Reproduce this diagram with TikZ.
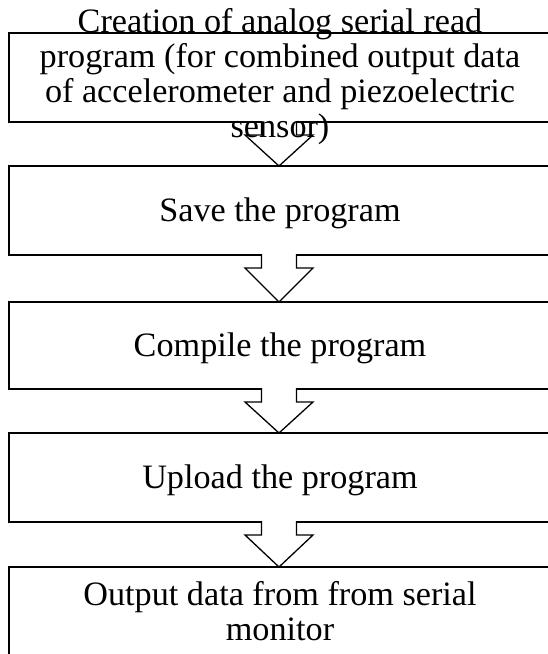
\documentclass[tikz,border=0pt]{standalone}
\usepackage{fontspec}
\setmainfont{Liberation Serif}

\newlength{\du}
\setlength{\du}{1pt}

\tikzset{
  stepbox/.style={draw=black, line width=1.4\du, fill=white, minimum width=540\du, minimum height=89\du, inner sep=0pt, outer sep=0pt},
  steptext/.style={align=center, inner sep=0pt, font=\fontsize{34.2}{35}\selectfont},
  blockarrow/.style={draw=black, fill=white, line width=1.3\du, line join=miter}
}

\begin{document}
\begin{tikzpicture}[x=\du,y=-\du]
\useasboundingbox (0,0) rectangle (547,654);
% boxes
\node[stepbox] (b1) at (279,77.5) {};
\node[stepbox] (b2) at (279,210.5) {};
\node[stepbox,minimum height=87\du] (b3) at (279,345.5) {};
\node[stepbox] (b4) at (279,477.5) {};
\node[stepbox] (b5) at (279,611.5) {};
% hollow arrows between the boxes
\draw[blockarrow] ([xshift=-17.5\du,yshift=1\du]b1.south) -- ++(0,14) -- ++(-16.5,0) -- (b2.north)
  -- ([xshift=34\du,yshift=-13\du]b1.south) -- ++(-16.5,0) -- ([xshift=17.5\du,yshift=1\du]b1.south);
\draw[blockarrow] ([xshift=-17.5\du,yshift=1\du]b2.south) -- ++(0,14) -- ++(-16.5,0) -- (b3.north)
  -- ([xshift=34\du,yshift=-13\du]b2.south) -- ++(-16.5,0) -- ([xshift=17.5\du,yshift=1\du]b2.south);
\draw[blockarrow] ([xshift=-17.5\du,yshift=1\du]b3.south) -- ++(0,14) -- ++(-16.5,0) -- (b4.north)
  -- ([xshift=34\du,yshift=-13\du]b3.south) -- ++(-16.5,0) -- ([xshift=17.5\du,yshift=1\du]b3.south);
\draw[blockarrow] ([xshift=-17.5\du,yshift=1\du]b4.south) -- ++(0,14) -- ++(-16.5,0) -- (b5.north)
  -- ([xshift=34\du,yshift=-13\du]b4.south) -- ++(-16.5,0) -- ([xshift=17.5\du,yshift=1\du]b4.south);
% texts
\node[steptext] (t1) at (280,76.5) {Creation of analog serial read\\program (for combined output data\\of accelerometer and piezoelectric\\sensor)};
\node[steptext] (t2) at (280,213.5) {Save the program};
\node[steptext] (t3) at (280,348.5) {Compile the program};
\node[steptext] (t4) at (280,480.5) {Upload the program};
\node[steptext] (t5) at (280,611) {Output data from from serial\\monitor};
\end{tikzpicture}
\end{document}
